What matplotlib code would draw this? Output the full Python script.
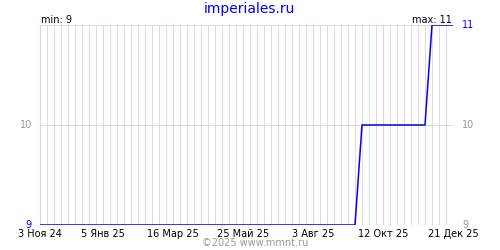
import numpy as np
import pandas as pd
import matplotlib
matplotlib.use("Agg")
import matplotlib.pyplot as plt
import matplotlib.dates as mdates

# data (weekly points where the value changes)
dates = ["2024-11-03", "2025-09-14", "2025-09-21", "2025-11-23", "2025-11-30", "2025-12-21"]
values = [9, 9, 10, 10, 11, 11]

tick_dates = ["2024-11-03", "2025-01-05", "2025-03-16", "2025-05-25",
              "2025-08-03", "2025-10-12", "2025-12-21"]
tick_labels = ["3 Ноя 24", "5 Янв 25", "16 Мар 25", "25 Май 25",
               "3 Авг 25", "12 Окт 25", "21 Дек 25"]

x = pd.to_datetime(dates)
xt = pd.to_datetime(tick_dates)
x0, x1 = xt[0], xt[-1]

fig = plt.figure(figsize=(5, 2.5), dpi=100)
ax = fig.add_axes([40/500, 25/250, 413/500, 200/250])

# weekly grey grid, red every 10 weeks
px = 0.72  # one pixel
weeks = pd.date_range(x0, x1, freq="7D")
for d in weeks:
    ax.axvline(d, color="#dcdcdc", lw=px, zorder=1, antialiased=False)
for d in xt:
    ax.axvline(d, color="#ffc8c8", lw=px, zorder=2, antialiased=False)
for v in [9, 10, 11]:
    ax.axhline(v, color="#dcdcdc", lw=px, zorder=1, antialiased=False)

ax.plot(x, values, color="#0000ff", lw=1.1, zorder=3)

ax.set_xlim(x0, x1)
ax.set_ylim(9, 11)
for s in ax.spines.values():
    s.set_visible(False)
ax.set_xticks(xt)
ax.set_xticklabels(tick_labels, fontsize=7)
ax.tick_params(axis="x", length=0, pad=3)
ax.set_yticks([])

vmin, vmax = min(values), max(values)
tr = ax.get_yaxis_transform()
fs = 7
ax.text(-0.02, 10, "10", transform=tr, ha="right", va="center", fontsize=fs, color="#999999")
ax.text(-0.02, vmin, str(vmin), transform=tr, ha="right", va="center", fontsize=fs, color="#0000ff")
ax.text(1.022, vmax, str(vmax), transform=tr, ha="left", va="center", fontsize=fs, color="#0000ff")
ax.text(1.022, 10, "10", transform=tr, ha="left", va="center", fontsize=fs, color="#999999")
ax.text(1.022, 9, "9", transform=tr, ha="left", va="center", fontsize=fs, color="#999999")

fig.text(41/500, 1 - 20/250, "min: %d" % vmin, ha="left", va="center", fontsize=fs)
fig.text(452/500, 1 - 20/250, "max: %d" % vmax, ha="right", va="center", fontsize=fs)
fig.text(249/500, 1 - 9/250, "imperiales.ru", ha="center", va="center", fontsize=10, color="#0000ff")
fig.text(255/500, 1 - 243/250, "©2025 www.mmnt.ru", ha="center", va="center", fontsize=7, color="#999999")

fig.savefig("out.png", dpi=100)
